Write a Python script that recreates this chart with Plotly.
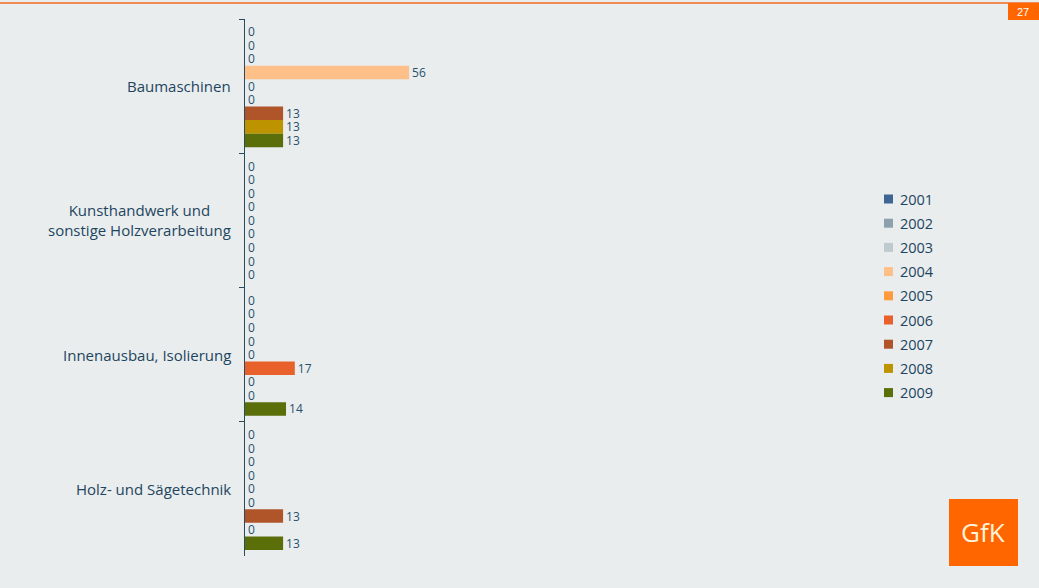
import plotly.graph_objects as go

categories = ["Baumaschinen", "Kunsthandwerk und<br>sonstige Holzverarbeitung",
              "Innenausbau, Isolierung", "Holz- und Sägetechnik"]
years = ["2001", "2002", "2003", "2004", "2005", "2006", "2007", "2008", "2009"]
values = {
    "2001": [0, 0, 0, 0],
    "2002": [0, 0, 0, 0],
    "2003": [0, 0, 0, 0],
    "2004": [56, 0, 0, 0],
    "2005": [0, 0, 0, 0],
    "2006": [0, 0, 17, 0],
    "2007": [13, 0, 0, 13],
    "2008": [13, 0, 0, 0],
    "2009": [13, 0, 14, 13],
}
colors = ["#3F6592", "#8CA1AD", "#BFCACE", "#FFBF88", "#FF9B3D",
          "#E9612A", "#B0542A", "#BD9400", "#5A6E0A"]

BG = "#E9EDEE"
TXT = "#1E4560"
FONT = "Open Sans"

# plot area geometry (pixels)
W, H = 1039, 588
L, R, T, B = 245, 194, 19, 32
PW = W - L - R
PH = H - T - B
PX_PER_UNIT = 2.93


def px(x):
    return (x - L) / PW


def py(y):
    return (H - B - y) / PH


fig = go.Figure()
for yr, col in zip(years, colors):
    fig.add_trace(go.Bar(
        y=categories, x=values[yr], name=yr, orientation="h",
        marker=dict(color=col, line=dict(width=0)),
        text=[str(v) for v in values[yr]], textposition="outside",
        constraintext="none",
        textfont=dict(family=FONT, size=12, color="#28506B"),
        cliponaxis=False, showlegend=False,
    ))

# category labels as centered multi-line annotations
for c in categories:
    fig.add_annotation(x=px(233), xref="paper", y=c, yref="y", text=c,
                       showarrow=False, xanchor="right", align="center",
                       font=dict(family=FONT, size=15, color=TXT))

shapes = []
annotations = []
# custom legend
for i, (yr, col) in enumerate(zip(years, colors)):
    yc = 199 + i * 24.2
    shapes.append(dict(type="rect", xref="paper", yref="paper",
                       x0=px(884), x1=px(893), y0=py(yc - 4.5), y1=py(yc + 4.5),
                       fillcolor=col, line=dict(width=0)))
    annotations.append(dict(x=px(898), y=py(yc), xref="paper", yref="paper",
                            text=yr, showarrow=False, xanchor="left", yanchor="middle",
                            font=dict(family=FONT, size=14.5, color=TXT)))

# top orange rule and page number box
shapes.append(dict(type="line", xref="paper", yref="paper",
                   x0=px(0), x1=px(W), y0=py(3), y1=py(3),
                   line=dict(color="#F26A21", width=1.5)))
shapes.append(dict(type="rect", xref="paper", yref="paper",
                   x0=px(1008), x1=px(W + 2), y0=py(20), y1=py(3),
                   fillcolor="#FF6600", line=dict(width=0)))
annotations.append(dict(x=px(1023), y=py(11.5), xref="paper", yref="paper",
                        text="27", showarrow=False, xanchor="center", yanchor="middle",
                        font=dict(family="Liberation Sans Narrow, Arial Narrow, sans-serif", size=11, color="white")))
# GfK logo
shapes.append(dict(type="rect", xref="paper", yref="paper",
                   x0=px(949), x1=px(1018), y0=py(566), y1=py(499),
                   fillcolor="#FF6600", line=dict(width=0)))
annotations.append(dict(x=px(983.5), y=py(532), xref="paper", yref="paper",
                        text="GfK", showarrow=False, xanchor="center", yanchor="middle",
                        font=dict(family=FONT, size=26, color="#FFF3DC")))

fig.update_layout(
    width=W, height=H,
    margin=dict(l=L, r=R, t=T, b=B, pad=0),
    paper_bgcolor=BG, plot_bgcolor=BG,
    barmode="group", bargap=0.09, bargroupgap=0,
    showlegend=False,
    shapes=shapes,
)
for a in annotations:
    fig.add_annotation(**a)

fig.update_xaxes(range=[0, PW / PX_PER_UNIT], visible=False, showgrid=False, zeroline=False)
fig.update_yaxes(autorange="reversed", showticklabels=False, showgrid=False, zeroline=False,
                 showline=True, linecolor="#2C4A5E", linewidth=1.2,
                 ticks="outside", tickson="boundaries", ticklen=5, tickcolor="#2C4A5E", tickwidth=1.2)

fig.write_html("out.html")
